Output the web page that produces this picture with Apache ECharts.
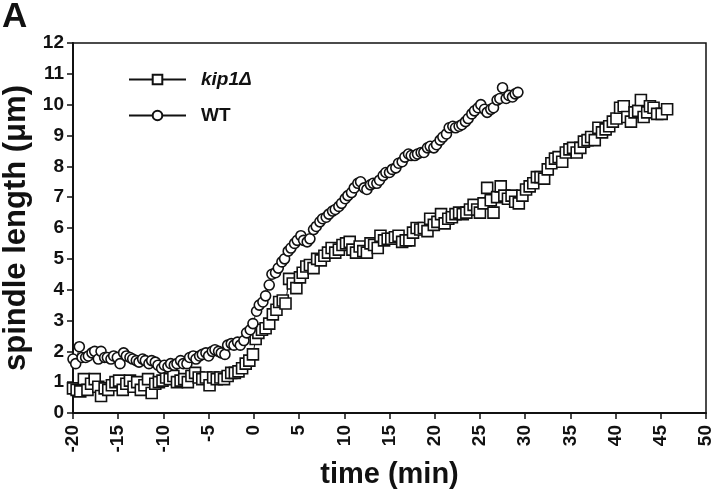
<!DOCTYPE html>
<html>
<head>
<meta charset="utf-8">
<script src="https://cdn.jsdelivr.net/npm/echarts@6/dist/echarts.min.js"></script>
<style>
  html, body { margin: 0; padding: 0; background: #fff; }
  #chart { width: 720px; height: 498px; }
</style>
</head>
<body>
<div id="chart"></div>
<script>
// Wild type spindle length (um) over time (min)
const wtTime = [
  -20.0, -19.7, -19.3, -19.0, -18.6, -18.3, -17.9, -17.6, -17.2, -16.9,
  -16.5, -16.2, -15.8, -15.5, -15.1, -14.8, -14.4, -14.1, -13.7, -13.4,
  -13.0, -12.7, -12.3, -12.0, -11.6, -11.3, -10.9, -10.6, -10.2, -9.9,
  -9.5, -9.2, -8.8, -8.5, -8.1, -7.8, -7.4, -7.1, -6.7, -6.4,
  -6.0, -5.7, -5.3, -5.0, -4.6, -4.3, -3.9, -3.6, -3.2, -2.9,
  -2.5, -2.2, -1.8, -1.5, -1.1, -0.8, -0.4, -0.1, 0.3, 0.6,
  1.0, 1.3, 1.7, 2.0, 2.4, 2.7, 3.1, 3.4, 3.8, 4.1,
  4.5, 4.8, 5.2, 5.5, 5.9, 6.2, 6.6, 6.9, 7.3, 7.6,
  8.0, 8.3, 8.7, 9.0, 9.4, 9.7, 10.1, 10.4, 10.8, 11.1,
  11.5, 11.8, 12.2, 12.5, 12.9, 13.2, 13.6, 13.9, 14.3, 14.6,
  15.0, 15.3, 15.7, 16.0, 16.4, 16.7, 17.1, 17.4, 17.8, 18.1,
  18.5, 18.8, 19.2, 19.5, 19.9, 20.2, 20.6, 20.9, 21.3, 21.6,
  22.0, 22.3, 22.7, 23.0, 23.4, 23.7, 24.1, 24.4, 24.8, 25.1,
  25.5, 25.8, 26.2, 26.5, 26.9, 27.2, 27.5, 27.9, 28.2, 28.6,
  28.9, 29.2
]
const wtLength = [
  1.75, 1.6, 2.15, 1.8, 1.8, 1.85, 1.95, 2.0, 1.75, 2.0,
  1.8, 1.8, 1.75, 1.85, 1.8, 1.6, 1.95, 1.85, 1.8, 1.75,
  1.7, 1.65, 1.75, 1.7, 1.6, 1.7, 1.65, 1.55, 1.45, 1.55,
  1.5, 1.6, 1.55, 1.6, 1.7, 1.6, 1.6, 1.8, 1.85, 1.75,
  1.85, 1.9, 1.95, 1.85, 2.0, 2.05, 2.0, 1.95, 1.9, 2.2,
  2.25, 2.2, 2.3, 2.2, 2.35, 2.6, 2.7, 2.9, 3.3, 3.5,
  3.6, 3.8, 4.15, 4.5, 4.55, 4.7, 4.9, 5.0, 5.25, 5.35,
  5.5, 5.6, 5.75, 5.6, 5.55, 5.65, 5.95, 6.05, 6.2, 6.3,
  6.35, 6.45, 6.55, 6.6, 6.7, 6.8, 6.95, 7.05, 7.15, 7.3,
  7.45, 7.5, 7.3, 7.25, 7.4, 7.45, 7.45, 7.55, 7.7, 7.8,
  7.8, 7.9, 7.95, 8.1, 8.15, 8.3, 8.4, 8.35, 8.35, 8.4,
  8.45, 8.45, 8.6, 8.65, 8.6, 8.7, 8.85, 8.95, 9.05, 9.25,
  9.3, 9.25, 9.3, 9.35, 9.45, 9.55, 9.7, 9.8, 9.9, 10.0,
  9.85, 9.75, 9.85, 9.9, 10.15, 10.2, 10.55, 10.2, 10.3, 10.25,
  10.35, 10.4
]

// kip1 deletion mutant spindle length (um) over time (min)
const kipTime = [
  -20.0, -19.6, -19.2, -18.8, -18.4, -18.0, -17.6, -17.2, -16.9, -16.5,
  -16.1, -15.7, -15.3, -14.9, -14.5, -14.1, -13.7, -13.3, -12.9, -12.5,
  -12.1, -11.7, -11.3, -10.9, -10.5, -10.1, -9.7, -9.3, -8.9, -8.5,
  -8.1, -7.7, -7.3, -6.9, -6.5, -6.1, -5.7, -5.3, -4.9, -4.5,
  -4.1, -3.7, -3.3, -2.9, -2.5, -2.1, -1.7, -1.3, -0.9, -0.5,
  -0.1, 0.2, 0.5, 0.9, 1.3, 1.7, 2.1, 2.5, 2.8, 3.2,
  3.5, 3.9, 4.3, 4.7, 5.1, 5.4, 5.8, 6.2, 6.6, 7.0,
  7.4, 7.8, 8.2, 8.6, 9.0, 9.4, 9.8, 10.2, 10.6, 10.9,
  11.3, 11.7, 12.1, 12.5, 12.9, 13.3, 13.7, 14.0, 14.4, 14.8,
  15.2, 15.6, 16.0, 16.4, 16.8, 17.2, 17.6, 18.0, 18.4, 18.8,
  19.2, 19.5, 19.9, 20.3, 20.7, 21.1, 21.5, 21.9, 22.3, 22.7,
  23.1, 23.5, 23.9, 24.3, 24.7, 25.0, 25.4, 25.8, 26.2, 26.5,
  26.9, 27.3, 27.7, 28.1, 28.5, 28.9, 29.3, 29.7, 30.1, 30.5,
  30.9, 31.3, 31.7, 32.1, 32.5, 32.9, 33.3, 33.7, 34.1, 34.5,
  34.9, 35.3, 35.7, 36.1, 36.5, 36.9, 37.3, 37.7, 38.1, 38.5,
  38.9, 39.3, 39.7, 40.1, 40.5, 40.9, 41.3, 41.7, 42.1, 42.5,
  42.8, 43.1, 43.5, 43.8, 44.2, 44.6, 45.1, 45.7
]
const kipLength = [
  0.8, 0.75, 0.7, 1.1, 0.75, 0.95, 1.1, 0.85, 0.55, 0.8,
  0.75, 0.9, 1.0, 1.05, 0.75, 0.95, 1.05, 0.85, 1.0, 0.75,
  0.9, 1.1, 0.65, 0.95, 1.0, 1.05, 1.15, 1.1, 1.2, 1.0,
  1.05, 1.1, 1.0, 1.2, 1.3, 1.15, 1.1, 1.15, 0.9, 1.15,
  1.1, 1.15, 1.1, 1.2, 1.3, 1.3, 1.35, 1.45, 1.6, 1.7,
  1.9, 2.4, 2.6, 2.7, 2.75, 2.9, 3.2, 3.35, 3.6, 3.65,
  3.55, 4.35, 4.2, 4.05, 4.4, 4.55, 4.75, 4.8, 4.7, 5.0,
  4.95, 5.1, 5.2, 5.35, 5.2, 5.3, 5.45, 5.5, 5.55, 5.3,
  5.2, 5.4, 5.25, 5.2, 5.5, 5.45, 5.35, 5.75, 5.6, 5.65,
  5.65, 5.7, 5.75, 5.55, 5.6, 5.6, 5.85, 6.0, 5.95, 6.0,
  5.9, 6.3, 6.1, 6.2, 6.45, 6.15, 6.3, 6.35, 6.45, 6.5,
  6.45, 6.5, 6.6, 6.75, 6.6, 6.5, 6.8, 7.3, 6.9, 6.5,
  7.0, 7.35, 7.05, 6.95, 7.05, 6.85, 6.8, 7.05, 7.25, 7.35,
  7.45, 7.65, 7.65, 7.6, 7.9, 8.1, 8.25, 8.3, 8.15, 8.45,
  8.55, 8.6, 8.45, 8.6, 8.8, 8.85, 8.95, 8.85, 9.25, 9.1,
  9.2, 9.3, 9.45, 9.55, 9.9, 9.95, 9.6, 9.45, 9.75, 9.8,
  10.15, 9.6, 9.75, 9.95, 9.9, 9.7, 9.7, 9.85
]

const font = '"Liberation Sans", Arial, Helvetica, sans-serif'
const ink = '#111'

const zip = (xs, ys) => xs.map((x, i) => [x, ys[i]])

const markerSeries = (name, symbol, size, data) => ({
  name,
  type: 'line',
  data,
  symbol,
  symbolSize: size,
  showAllSymbol: true,
  animation: false,
  lineStyle: { color: ink, width: 1 },
  itemStyle: { color: '#fff', borderColor: ink, borderWidth: 1.6 },
})

const chart = echarts.init(document.getElementById('chart'), null, { renderer: 'canvas' })

// Axis styling shared by both axes
const axisBase = {
  axisLine: { show: true, onZero: false, lineStyle: { color: ink, width: 2 } },
  axisTick: { show: true, length: 6, lineStyle: { color: ink, width: 1.5 } },
  splitLine: { show: false },
  axisLabel: { color: ink, fontFamily: font, fontWeight: 'bold', fontSize: 19 },
  nameLocation: 'middle',
  nameTextStyle: { color: ink, fontFamily: font, fontWeight: 'bold', fontSize: 29 },
}

chart.setOption({
  backgroundColor: '#fff',
  textStyle: { fontFamily: font },
  graphic: [
    {
      type: 'text',
      left: 2,
      top: 0,
      style: { text: 'A', font: 'bold 35px ' + font, fill: ink },
    },
  ],
  grid: {
    show: true,
    left: 73,
    right: 14,
    top: 43,
    bottom: 85,
    // v6 otherwise shrinks the grid to keep the big axis names inside
    outerBoundsMode: 'none',
    containLabel: false,
    borderColor: ink,
    borderWidth: 1.5,
    backgroundColor: '#fff',
  },
  legend: {
    orient: 'vertical',
    left: 123,
    top: 65,
    itemWidth: 57,
    itemHeight: 12,
    itemGap: 17,
    data: ['kip1Δ', 'WT'],
    formatter: (name) => (name === 'WT' ? name : '{i|' + name + '}'),
    textStyle: {
      color: ink,
      fontFamily: font,
      fontWeight: 'bold',
      fontSize: 19,
      padding: [0, 0, 0, 10],
      rich: {
        i: { fontFamily: font, fontWeight: 'bold', fontStyle: 'italic', fontSize: 19, color: ink },
      },
    },
  },
  xAxis: {
    ...axisBase,
    type: 'value',
    min: -20,
    max: 50,
    interval: 5,
    name: 'time (min)',
    nameGap: 45,
    axisLabel: { ...axisBase.axisLabel, rotate: 90, margin: 12 },
  },
  yAxis: {
    ...axisBase,
    type: 'value',
    min: 0,
    max: 12,
    interval: 1,
    name: 'spindle length (μm)',
    nameGap: 32,
    nameTextStyle: { ...axisBase.nameTextStyle, fontSize: 31 },
    axisLabel: { ...axisBase.axisLabel, margin: 9 },
  },
  series: [
    markerSeries('kip1Δ', 'rect', 11, zip(kipTime, kipLength)),
    markerSeries('WT', 'circle', 10, zip(wtTime, wtLength)),
  ],
})
</script>
</body>
</html>
